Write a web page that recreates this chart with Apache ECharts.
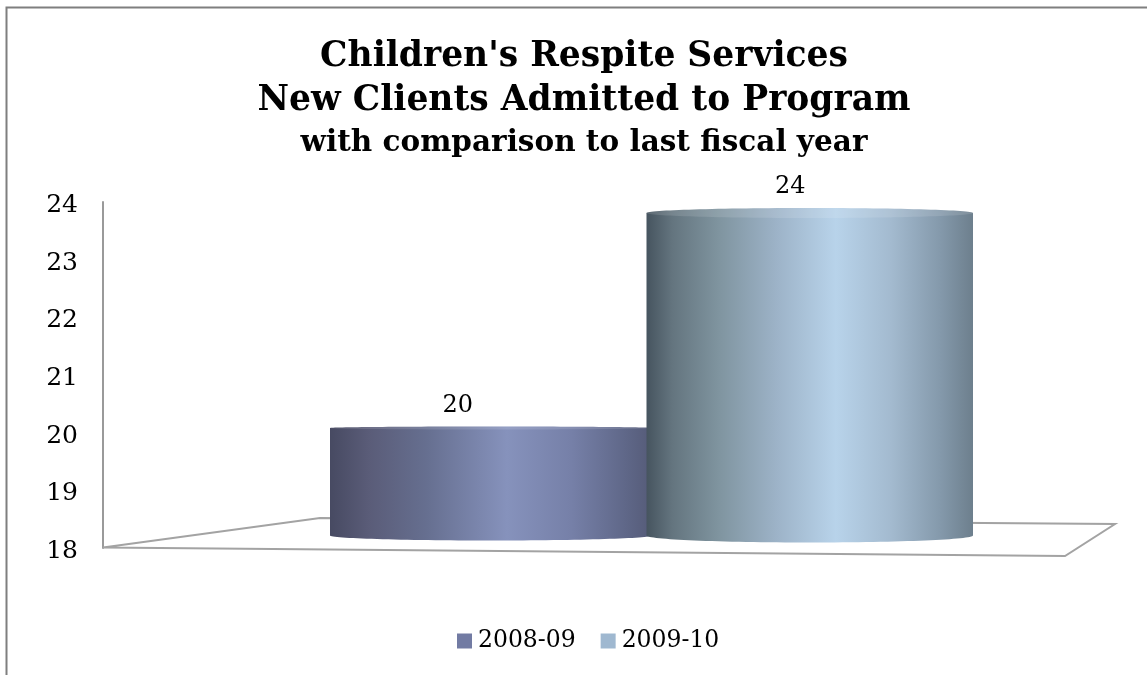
<!DOCTYPE html>
<html>
<head>
<meta charset="utf-8">
<style>html,body{margin:0;padding:0;background:#fff}#c{width:1147px;height:675px}</style>
<script src="https://cdn.jsdelivr.net/npm/echarts@6/dist/echarts.min.js"></script>
</head>
<body>
<div id="c"></div>
<script>
var fiscalYears = ['2008-09', '2009-10'];
var newClients = [20, 24];
var yMin = 18;
var yMax = 24;
var titleLines = "Children's Respite Services\nNew Clients Admitted to Program";
var subtitle = 'with comparison to last fiscal year';

var SERIF = '"DejaVu Serif", serif';
var bodyStops = [
  [[0,'#474a62'],[0.12,'#5a5c78'],[0.3,'#666f90'],[0.55,'#8692bc'],[0.75,'#7680a8'],[0.92,'#5f6788'],[1,'#555b78']],
  [[0,'#46545f'],[0.08,'#64757f'],[0.22,'#7f949f'],[0.4,'#9db3c8'],[0.58,'#b8d3ea'],[0.75,'#a3bacf'],[0.9,'#8499ab'],[1,'#6d7f8d']]
];
var legendColors = ['#727ba3', '#9fb8d0'];
var topRy = [1.5, 5];
var bottomRy = [5, 7];
var extraLeft = [0, 5];
var labelShiftX = [-33, -22];
var labelShiftY = [-22, -26];

function grad(stops) {
  return new echarts.graphic.LinearGradient(0, 0, 1, 0, stops.map(function (s) {
    return { offset: s[0], color: s[1] };
  }));
}

function cylinder(idx) {
  return function (params, api) {
    var top = api.coord([api.value(0), api.value(1)]);
    var base = api.coord([api.value(0), yMin]);
    var band = api.size([1, 0])[0];
    var w = band + extraLeft[idx];
    var left = top[0] - band / 2 - extraLeft[idx];
    var cx = left + w / 2;
    var g = grad(bodyStops[idx]);
    return {
      type: 'group',
      children: [
        { type: 'ellipse', shape: { cx: cx, cy: base[1], rx: w / 2, ry: bottomRy[idx] }, style: { fill: g } },
        { type: 'rect', shape: { x: left, y: top[1], width: w, height: base[1] - top[1] }, style: { fill: g } },
        { type: 'ellipse', shape: { cx: cx, cy: top[1], rx: w / 2, ry: topRy[idx] }, style: { fill: g } },
        { type: 'ellipse', shape: { cx: cx, cy: top[1], rx: w / 2, ry: topRy[idx] }, style: { fill: 'rgba(255,255,255,0.12)' } },
        { type: 'text', style: {
            text: String(api.value(1)), x: top[0] + labelShiftX[idx], y: top[1] + labelShiftY[idx],
            fill: '#000', font: '24px ' + SERIF, textAlign: 'center', textVerticalAlign: 'middle' } }
      ]
    };
  };
}

var chart = echarts.init(document.getElementById('c'), null, { renderer: 'canvas' });
chart.setOption({
  animation: false,
  backgroundColor: '#fff',
  title: {
    text: titleLines,
    subtext: subtitle,
    left: 579, top: 30, textAlign: 'center', itemGap: 5,
    textStyle: { fontFamily: SERIF, fontWeight: 'bold', fontSize: 34.5, lineHeight: 44, color: '#000' },
    subtextStyle: { fontFamily: SERIF, fontWeight: 'bold', fontSize: 29.5, color: '#000', lineHeight: 30 }
  },
  legend: {
    data: fiscalYears, bottom: 17, left: 452, itemWidth: 15, itemHeight: 15, itemGap: 25,
    textStyle: { fontFamily: SERIF, fontSize: 23.5, color: '#000', padding: [0, 0, 0, 1] },
    icon: 'rect'
  },
  grid: [
    { left: 103, top: 202, width: 965, height: 346, containLabel: false },
    { left: 330, top: 213, width: 643, height: 322.5 }
  ],
  xAxis: [
    { gridIndex: 0, type: 'category', show: false, data: [''] },
    { gridIndex: 1, type: 'category', show: false, data: fiscalYears, boundaryGap: true }
  ],
  yAxis: [
    { gridIndex: 0, type: 'value', min: yMin, max: yMax, interval: 1,
      axisLine: { show: true, lineStyle: { color: '#9a9a9a', width: 2 } },
      axisTick: { show: false }, splitLine: { show: false },
      axisLabel: { color: '#000', fontFamily: SERIF, fontSize: 25, margin: 25, verticalAlign: 'top', lineHeight: 7 } },
    { gridIndex: 1, type: 'value', min: yMin, max: yMax, interval: 1, show: false, splitLine: { show: false } }
  ],
  series: fiscalYears.map(function (name, i) {
    return {
      name: name, type: 'custom', xAxisIndex: 1, yAxisIndex: 1, z: 5 + i,
      itemStyle: { color: legendColors[i] },
      renderItem: cylinder(i),
      clip: false,
      data: [[i, newClients[i]]]
    };
  }),
  graphic: [
    { type: 'polyline', z: 0, shape: { points: [[6.5, 675], [6.5, 7.5], [1147, 7.5]] },
      style: { stroke: '#7f7f7f', lineWidth: 2, fill: null } },
    { type: 'polygon', z: 1, shape: { points: [[103, 547.5], [320, 518], [1115, 524], [1065, 556]] },
      style: { stroke: '#a3a3a3', lineWidth: 2, fill: '#fff' } }
  ]
});
</script>
</body>
</html>
